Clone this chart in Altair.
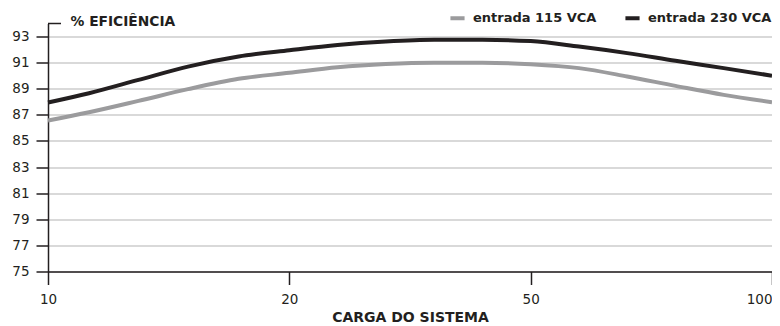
import altair as alt
import pandas as pd

# x positions on the (equally spaced) load axis: 0 -> 10, 1 -> 20, 2 -> 50, 3 -> 100
x_ticks = [0, 1, 2, 3]
x_labels = ["10", "20", "50", "100"]

sample_pos = [0, 0.17, 0.375, 0.58, 0.79, 1.0, 1.2, 1.4, 1.6, 1.8, 2.0, 2.2, 2.4, 2.6, 2.8, 3.0]
eff_115 = [86.56, 87.2, 88.07, 88.97, 89.76, 90.22, 90.65, 90.9, 91.0, 91.0, 90.88, 90.58, 89.94, 89.22, 88.53, 87.97]
eff_230 = [87.95, 88.66, 89.68, 90.7, 91.47, 91.95, 92.36, 92.62, 92.75, 92.75, 92.65, 92.23, 91.73, 91.14, 90.58, 90.0]

series_names = ["entrada 115 VCA", "entrada 230 VCA"]
series_colors = ["#9b9b9d", "#231f20"]
y_ticks = [75, 77, 79, 81, 83, 85, 87, 89, 91, 93]

rows = []
for name, vals in zip(series_names, [eff_115, eff_230]):
    for p, v in zip(sample_pos, vals):
        rows.append({"pos": p, "eff": v, "serie": name})
df = pd.DataFrame(rows)

label_expr = "[" + ",".join("'" + s + "'" for s in x_labels) + "][datum.value]"
FONT = "DejaVu Sans"
INK = "#231f20"

lines = alt.Chart(df).mark_line(strokeWidth=4, interpolate="monotone").encode(
    x=alt.X("pos:Q",
            scale=alt.Scale(domain=[0, 3], nice=False),
            axis=alt.Axis(values=x_ticks, labelExpr=label_expr, grid=False,
                          title="CARGA DO SISTEMA", titleFont=FONT, titleFontSize=14,
                          titleFontWeight="bold", titleColor=INK,
                          titleBaseline="alphabetic", titleY=50,
                          tickSize=13, tickWidth=1.5, tickColor=INK,
                          domainColor=INK, domainWidth=1.5,
                          labelFont=FONT, labelFontSize=13.5, labelColor=INK,
                          labelBaseline="alphabetic", labelPadding=19,
                          labelAlign=alt.ExprRef(expr="datum.value == 3 ? 'right' : 'center'"),
                          labelFlush=False, labelOverlap=False)),
    y=alt.Y("eff:Q",
            scale=alt.Scale(domain=[75, 94], nice=False, zero=False),
            axis=alt.Axis(values=y_ticks, grid=True, gridColor="#d9d9d9", gridWidth=1.8,
                          title="% EFICIÊNCIA", titleAngle=0, titleX=22, titleY=1.5,
                          titleAlign="left", titleBaseline="alphabetic",
                          titleFont=FONT, titleFontSize=13.8, titleFontWeight="bold",
                          titleColor=INK,
                          tickSize=12, tickWidth=1.5, tickColor=INK,
                          domainColor=INK, domainWidth=1.5,
                          labelFont=FONT, labelFontSize=13.5, labelColor=INK,
                          labelPadding=7, labelOverlap=False)),
    color=alt.Color("serie:N",
                    scale=alt.Scale(domain=series_names, range=series_colors),
                    legend=alt.Legend(title=None, orient="none", direction="horizontal",
                                      legendX=400, legendY=-15, padding=0,
                                      symbolType="stroke", symbolStrokeWidth=4,
                                      symbolSize=200, labelOffset=6, columnPadding=20,
                                      labelFont=FONT, labelFontSize=13,
                                      labelFontWeight="bold", labelColor=INK)),
)

# short horizontal stub at the top of the y axis line
stub = alt.Chart(pd.DataFrame({"k": [0]})).mark_rule(color=INK, strokeWidth=1.5).encode(
    y=alt.value(0), x=alt.value(0), x2=alt.value(13)
)

chart = alt.layer(lines, stub).properties(
    width=724, height=248,
    autosize=alt.AutoSizeParams(type="none"),
    padding={"left": 40, "top": 15.5, "right": 0, "bottom": 55},
).configure_view(stroke=None)

chart.save("out.html", embed_options={"renderer": "svg", "actions": False})
